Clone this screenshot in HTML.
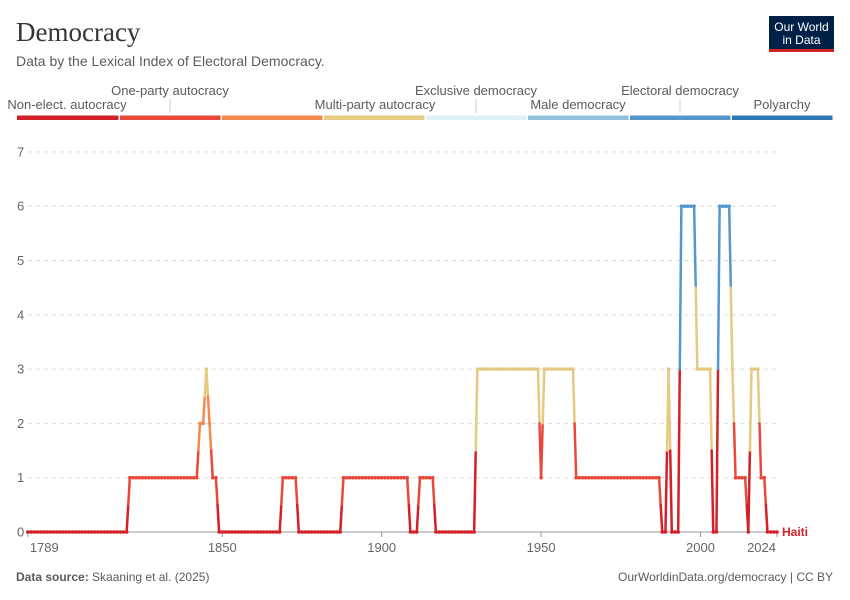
<!DOCTYPE html>
<html><head><meta charset="utf-8"><style>
body{margin:0;background:#fff;}
svg{display:block;font-family:"Liberation Sans",sans-serif;}
</style></head><body>
<svg id="chart" width="850" height="600" viewBox="0 0 850 600" xmlns="http://www.w3.org/2000/svg">
<text x="16" y="41" font-family="Liberation Serif,serif" font-size="27" fill="#363636">Democracy</text>
<text x="16" y="66" font-size="14" fill="#5b5b5b">Data by the Lexical Index of Electoral Democracy.</text>
<g>
<rect x="769" y="16" width="65" height="36" fill="#002147"/>
<rect x="769" y="49" width="65" height="3" fill="#ce261e"/>
<text x="801.5" y="31" font-size="12" fill="#fff" text-anchor="middle">Our World</text>
<text x="801.5" y="44" font-size="12" fill="#fff" text-anchor="middle">in Data</text>
</g>
<g id="legend"></g>
<g id="grid"></g>
<g id="xaxis"></g>
<g id="series"></g>
<text x="782" y="536" font-size="12" font-weight="bold" fill="#d42127">Haiti</text>
<text x="16" y="581" font-size="12" fill="#5b5b5b"><tspan font-weight="bold">Data source:</tspan> Skaaning et al. (2025)</text>
<text x="833" y="581" font-size="12" fill="#5b5b5b" text-anchor="end">OurWorldinData.org/democracy | CC BY</text>
</svg>
<script>
const categories=["Non-elect. autocracy","One-party autocracy","Multi-party autocracy","Exclusive democracy","Male democracy","Electoral democracy","Polyarchy"];
const colors=["#d42127","#e8493a","#f5894d","#e6c983","#dff1f8","#8fc0dd","#5597cc","#2e76b4"];
const yTicks=[0,1,2,3,4,5,6,7];
const xTicks=[1789,1850,1900,1950,2000,2024];
const startYear=1789;
const values=[
0,0,0,0,0,0,0,0,0,0,0,0,0,0,0,0,0,0,0,0,0,0,0,0,0,0,0,0,0,0,0,0,
1,1,1,1,1,1,1,1,1,1,1,1,1,1,1,1,1,1,1,1,1,1,
2,2,3,2,1,1,
0,0,0,0,0,0,0,0,0,0,0,0,0,0,0,0,0,0,0,0,
1,1,1,1,1,
0,0,0,0,0,0,0,0,0,0,0,0,0,0,
1,1,1,1,1,1,1,1,1,1,1,1,1,1,1,1,1,1,1,1,1,
0,0,0,
1,1,1,1,1,
0,0,0,0,0,0,0,0,0,0,0,0,0,
3,3,3,3,3,3,3,3,3,3,3,3,3,3,3,3,3,3,3,3,
1,
3,3,3,3,3,3,3,3,3,3,
1,1,1,1,1,1,1,1,1,1,1,1,1,1,1,1,1,1,1,1,1,1,1,1,1,1,1,
0,0,
3,
0,0,0,
6,6,6,6,6,
3,3,3,3,3,
0,0,
6,6,6,6,
3,
1,1,1,1,
0,
3,3,3,
1,1,
0,0,0,0];
const years=values.map((v,i)=>startYear+i);
const NS="http://www.w3.org/2000/svg";
const X=y=>222.3+(y-1850)*3.188;
const Y=v=>532-v*54.3;
function mk(tag,attrs,parent){const e=document.createElementNS(NS,tag);for(const k in attrs)e.setAttribute(k,attrs[k]);parent.appendChild(e);return e;}
const lg=document.getElementById('legend');
const segW=(833-17)/8;
colors.forEach((c,i)=>{
  const r=mk('rect',{x:17+i*segW+(i?1:0),y:115.5,width:segW-(i?1.5:0.5),height:4.5,fill:c},lg);
  
  
});
const legPos=[[67,109,"Non-elect. autocracy"],[170,95,"One-party autocracy"],[375,109,"Multi-party autocracy"],[476,95,"Exclusive democracy"],[578,109,"Male democracy"],[680,95,"Electoral democracy"],[782,109,"Polyarchy"]];
legPos.forEach(([x,y,t],i)=>{
  const tx=mk('text',{x:x,y:y,'font-size':13,fill:'#5b5b5b','text-anchor':'middle'},lg);
  tx.textContent=t;
  
  
  if(y<100){mk('line',{x1:x,x2:x,y1:99,y2:113,stroke:'#ccc','stroke-width':1},lg);}
});
const g=document.getElementById('grid');
const xEnd=X(2024);
yTicks.forEach(v=>{
  if(v>0){mk('line',{x1:28,x2:xEnd,y1:Y(v),y2:Y(v),stroke:'#ddd','stroke-dasharray':'4,4'},g);}
  const t=mk('text',{x:17,y:Y(v)+4.5,'font-size':13,fill:'#666'},g);
  t.textContent=v;
  
  
});
mk('line',{x1:28,x2:xEnd,y1:532,y2:532,stroke:'#999','stroke-width':1},g);
const xa=document.getElementById('xaxis');
xTicks.forEach((yr,i)=>{
  let x=X(yr);
  mk('line',{x1:x,x2:x,y1:532,y2:537,stroke:'#999'},xa);
  let anchor='middle',tx=x;
  if(i==0){tx=x+2;anchor='start';}
  if(i==xTicks.length-1){tx=x-1;anchor='end';}
  const t=mk('text',{x:tx,y:552,'font-size':13,fill:'#666','text-anchor':anchor},xa);
  t.textContent=yr;
  
  
});
const s=document.getElementById('series');
for(let i=0;i<values.length-1;i++){
  const x1=X(years[i]),y1=Y(values[i]),x2=X(years[i+1]),y2=Y(values[i+1]);
  const mx=(x1+x2)/2,my=(y1+y2)/2;
  const a=mk('line',{x1:x1,y1:y1,x2:mx,y2:my,stroke:colors[values[i]],'stroke-width':2.5,'stroke-linecap':'round'},s);
  
  
  const b=mk('line',{x1:mx,y1:my,x2:x2,y2:y2,stroke:colors[values[i+1]],'stroke-width':2.5,'stroke-linecap':'round'},s);
  
  
}
values.forEach((v,i)=>{
  const c=mk('circle',{cx:X(years[i]),cy:Y(v),r:1.8,fill:colors[v]},s);
  
  
});
</script>
</body></html>
